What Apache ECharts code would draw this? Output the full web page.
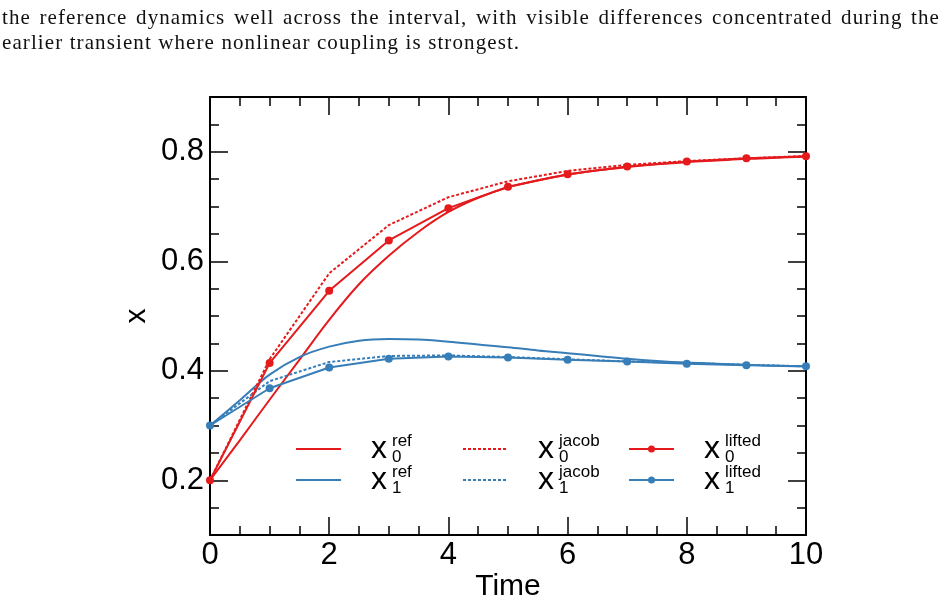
<!DOCTYPE html>
<html>
<head>
<meta charset="utf-8">
<script src="https://cdn.jsdelivr.net/npm/echarts@6/dist/echarts.min.js"></script>
<style>
  body { margin: 0; background: #fff; }
  #wrap { position: relative; width: 947px; height: 605px; }
  #chart { position: absolute; left: 0; top: 0; width: 947px; height: 605px; }
  .cap { position: absolute; left: 2px; width: 938px; font-family: "Liberation Serif", serif; font-size: 21px; letter-spacing: 1.1px; color: #111; white-space: nowrap; }
  #cap1 { top: 5px; text-align: justify; text-align-last: justify; white-space: normal; }
  #cap2 { top: 30px; }
</style>
</head>
<body>
<div id="wrap">
  <div id="chart"></div>
  <div class="cap" id="cap1">the reference dynamics well across the interval, with visible differences concentrated during the</div>
  <div class="cap" id="cap2">earlier transient where nonlinear coupling is strongest.</div>
</div>
<script>
// sampled time grid for the reference trajectories
const tRef = [0, 0.5, 1, 1.5, 2, 2.5, 3, 3.5, 4, 4.5, 5, 5.5, 6, 6.5, 7, 7.5, 8, 8.5, 9, 9.5, 10];
const x0Ref = [0.200, 0.273, 0.347, 0.420, 0.493, 0.558, 0.610, 0.654, 0.690, 0.716, 0.735, 0.748, 0.758, 0.766, 0.772, 0.777, 0.781, 0.784, 0.787, 0.789, 0.791];
const x1Ref = [0.300, 0.346, 0.393, 0.425, 0.444, 0.455, 0.458, 0.457, 0.453, 0.448, 0.443, 0.437, 0.432, 0.427, 0.422, 0.418, 0.415, 0.413, 0.411, 0.409, 0.408];

// coarse steps for the two approximations
const tStep = [0, 1, 2, 3, 4, 5, 6, 7, 8, 9, 10];
const x0Jacob = [0.200, 0.421, 0.578, 0.666, 0.717, 0.746, 0.765, 0.776, 0.783, 0.788, 0.792];
const x1Jacob = [0.300, 0.381, 0.416, 0.427, 0.428, 0.425, 0.421, 0.417, 0.414, 0.411, 0.408];
const x0Lifted = [0.200, 0.414, 0.546, 0.638, 0.697, 0.736, 0.759, 0.773, 0.782, 0.788, 0.792];
const x1Lifted = [0.300, 0.368, 0.406, 0.422, 0.426, 0.424, 0.420, 0.417, 0.413, 0.410, 0.408];

const yTicks = [0.2, 0.4, 0.6, 0.8];

const RED = "#e41a1c";
const BLUE = "#377eb8";
const FONT = "Liberation Sans";

const pairs = (ts, vs) => ts.map((t, i) => [t, vs[i]]);

const chart = echarts.init(document.getElementById("chart"));

const tickStyle = { color: "#000", width: 1.5 };

const xBase = {
  type: "value",
  min: 0,
  max: 10,
  interval: 2,
  axisLine: { show: true, onZero: false, lineStyle: { color: "#000", width: 2 } },
  axisTick: { show: true, inside: true, length: 18, lineStyle: tickStyle },
  minorTick: { show: true, splitNumber: 4, length: 9, lineStyle: tickStyle },
  splitLine: { show: false },
  minorSplitLine: { show: false },
};

const yMinor = {
  type: "value",
  min: 0.1,
  max: 0.9,
  interval: 0.05,
  axisLine: { show: true, onZero: false, lineStyle: { color: "#000", width: 2 } },
  axisTick: { show: true, inside: true, length: 9, lineStyle: tickStyle },
  axisLabel: { show: false },
  splitLine: { show: false },
};

const yMajor = {
  type: "value",
  min: 0.1,
  max: 0.9,
  axisLine: { show: false, onZero: false },
  axisTick: { show: true, inside: true, length: 18, customValues: yTicks, lineStyle: tickStyle },
  splitLine: { show: false },
};

// legend drawn by hand so that stacked sub/superscripts work
function legendItem(x, y, color, kind, sub, sup) {
  const els = [
    {
      type: "line",
      shape: { x1: x, y1: y, x2: x + 45, y2: y },
      style: { stroke: color, lineWidth: 2, lineDash: kind === "jacob" ? [3, 2] : null },
    },
  ];
  if (kind === "lifted") {
    els.push({ type: "circle", shape: { cx: x + 22.5, cy: y, r: 3.5 }, style: { fill: color } });
  }
  const tx = x + 75;
  els.push(
    { type: "text", x: tx, y: y + 16, style: { text: "x", font: "32px " + FONT, fill: "#000", textVerticalAlign: "bottom" } },
    { type: "text", x: tx + 21, y: y + 1, style: { text: sup, font: "17px " + FONT, fill: "#000", textVerticalAlign: "bottom" } },
    { type: "text", x: tx + 21, y: y + 17, style: { text: sub, font: "17px " + FONT, fill: "#000", textVerticalAlign: "bottom" } }
  );
  return els;
}

const legendEls = [].concat(
  legendItem(296, 449, RED, "ref", "0", "ref"),
  legendItem(296, 480, BLUE, "ref", "1", "ref"),
  legendItem(463, 449, RED, "jacob", "0", "jacob"),
  legendItem(463, 480, BLUE, "jacob", "1", "jacob"),
  legendItem(629, 449, RED, "lifted", "0", "lifted"),
  legendItem(629, 480, BLUE, "lifted", "1", "lifted")
);

const option = {
  animation: false,
  backgroundColor: "#fff",
  grid: { left: 210, top: 97, width: 596, height: 438, outerBoundsMode: "none", containLabel: false },
  xAxis: [
    Object.assign({}, xBase, {
      position: "bottom",
      name: "Time",
      nameLocation: "middle",
      nameGap: 37,
      nameMoveOverlap: false,
      nameTextStyle: { fontFamily: FONT, fontSize: 30, color: "#000" },
      axisLabel: { show: true, margin: 5, fontFamily: FONT, fontSize: 31, color: "#000" },
    }),
    Object.assign({}, xBase, { position: "top", axisLabel: { show: false } }),
  ],
  yAxis: [
    Object.assign({}, yMinor, { position: "left" }),
    Object.assign({}, yMinor, { position: "right" }),
    Object.assign({}, yMajor, {
      position: "left",
      name: "x",
      nameLocation: "middle",
      nameRotate: 90,
      nameGap: 58,
      nameMoveOverlap: false,
      nameTextStyle: { fontFamily: FONT, fontSize: 30, color: "#000" },
      axisLabel: {
        show: true,
        customValues: yTicks,
        margin: 6,
        fontFamily: FONT,
        fontSize: 31,
        color: "#000",
        formatter: (v) => v.toFixed(1),
      },
    }),
    Object.assign({}, yMajor, { position: "right", axisLabel: { show: false } }),
  ],
  series: [
    {
      name: "x0 ref", type: "line", data: pairs(tRef, x0Ref), smooth: 0.35,
      showSymbol: false, lineStyle: { color: RED, width: 2 }, itemStyle: { color: RED },
    },
    {
      name: "x1 ref", type: "line", data: pairs(tRef, x1Ref), smooth: 0.35,
      showSymbol: false, lineStyle: { color: BLUE, width: 2 }, itemStyle: { color: BLUE },
    },
    {
      name: "x0 jacob", type: "line", data: pairs(tStep, x0Jacob),
      showSymbol: false, lineStyle: { color: RED, width: 2, type: [3, 2] }, itemStyle: { color: RED },
    },
    {
      name: "x1 jacob", type: "line", data: pairs(tStep, x1Jacob),
      showSymbol: false, lineStyle: { color: BLUE, width: 2, type: [3, 2] }, itemStyle: { color: BLUE },
    },
    {
      name: "x0 lifted", type: "line", data: pairs(tStep, x0Lifted),
      symbol: "circle", symbolSize: 8, lineStyle: { color: RED, width: 2 }, itemStyle: { color: RED },
    },
    {
      name: "x1 lifted", type: "line", data: pairs(tStep, x1Lifted),
      symbol: "circle", symbolSize: 8, lineStyle: { color: BLUE, width: 2 }, itemStyle: { color: BLUE },
    },
  ],
  graphic: legendEls,
};

chart.setOption(option);
</script>
</body>
</html>
